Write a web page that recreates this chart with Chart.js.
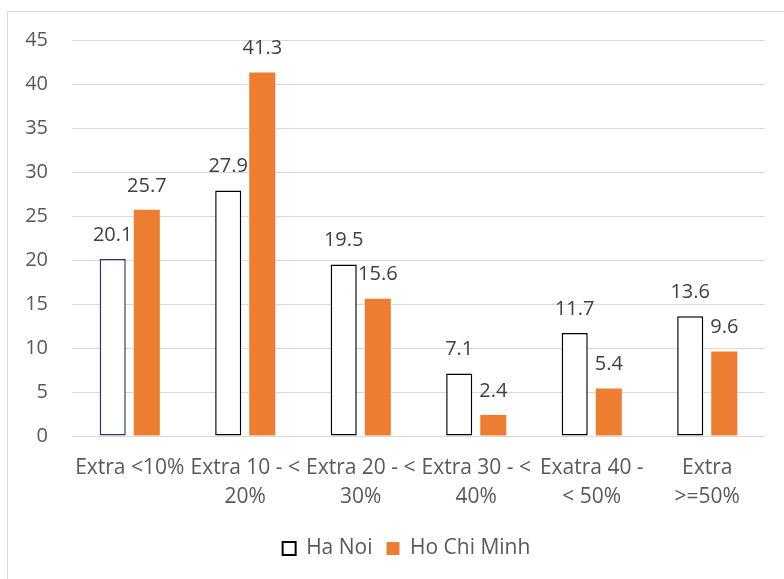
<!DOCTYPE html>
<html>
<head>
<meta charset="utf-8">
<script src="https://cdn.jsdelivr.net/npm/chart.js@4.4.1/dist/chart.umd.min.js"></script>
<style>
    html, body { margin: 0; padding: 0; background: #fff; }
    #frame {
        position: absolute; left: 7px; top: 11px;
        width: 820px; height: 620px;
        border: 1px solid #d9d9d9;
    }
    #wrap { position: absolute; left: 0; top: 0; width: 784px; height: 579px; }
</style>
</head>
<body>
<div id="frame"></div>
<div id="wrap"><canvas id="chart" width="784" height="579"></canvas></div>
<script>
// Values
const categories = [
    ['Extra <10%'],
    ['Extra 10 - <', '20%'],
    ['Extra 20 - <', '30%'],
    ['Extra 30 - <', '40%'],
    ['Exatra 40 -', '< 50%'],
    ['Extra', '>=50%']
];
const haNoi = [20.1, 27.9, 19.5, 7.1, 11.7, 13.6];
const hoChiMinh = [25.7, 41.3, 15.6, 2.4, 5.4, 9.6];
const yTicks = [0, 5, 10, 15, 20, 25, 30, 35, 40, 45];

const FONT = "'Open Sans', 'Liberation Sans', sans-serif";
const ORANGE = '#ED7D31';

// first Ha Noi bar has a navy outline in the original, the rest are black
const haNoiBorders = haNoi.map((v, i) => i === 0 ? '#203864' : '#000000');

// simple value labels above each bar
const valueLabels = {
    id: 'valueLabels',
    afterDatasetsDraw(chart) {
        const ctx = chart.ctx;
        ctx.save();
        ctx.font = '20px ' + FONT;
        ctx.fillStyle = '#404040';
        ctx.textAlign = 'center';
        ctx.textBaseline = 'middle';
        chart.data.datasets.forEach((ds, di) => {
            const meta = chart.getDatasetMeta(di);
            meta.data.forEach((bar, i) => {
                ctx.fillText(ds.data[i].toFixed(1), bar.x, bar.y - 24);
            });
        });
        ctx.restore();
    }
};

// legend in the original sits a bit right of the canvas centre
const shiftLegend = {
    id: 'shiftLegend',
    afterLayout(chart) {
        if (chart.legend) {
            chart.legend.left += 24;
            chart.legend.right += 24;
        }
    }
};

new Chart(document.getElementById('chart'), {
    type: 'bar',
    data: {
        labels: categories,
        datasets: [
            {
                label: 'Ha Noi',
                data: haNoi,
                backgroundColor: '#ffffff',
                borderColor: haNoiBorders,
                borderWidth: 1.5,
                borderSkipped: false
            },
            {
                label: 'Ho Chi Minh',
                data: hoChiMinh,
                backgroundColor: ORANGE,
                borderWidth: 0
            }
        ]
    },
    options: {
        responsive: false,
        animation: false,
        categoryPercentage: 0.59,
        barPercentage: 0.765,
        layout: { padding: { left: 0, right: 19, top: 40, bottom: 10 } },
        plugins: {
            tooltip: { enabled: false },
            legend: {
                position: 'bottom',
                labels: {
                    font: { family: FONT, size: 21 },
                    color: '#595959',
                    boxWidth: 13,
                    boxHeight: 13,
                    padding: 14,
                    generateLabels(chart) {
                        return [
                            { text: 'Ha Noi', fillStyle: '#ffffff', strokeStyle: '#000000', lineWidth: 2, datasetIndex: 0, fontColor: '#595959' },
                            { text: 'Ho Chi Minh', fillStyle: ORANGE, strokeStyle: ORANGE, lineWidth: 0, datasetIndex: 1, fontColor: '#595959' }
                        ];
                    }
                }
            }
        },
        scales: {
            x: {
                grid: { display: false, drawTicks: false },
                border: { display: false },
                ticks: {
                    autoSkip: false,
                    maxRotation: 0,
                    padding: 18,
                    color: '#595959',
                    font: { family: FONT, size: 21, lineHeight: 1.35 }
                },
                afterFit(scale) { scale.height = 88; }
            },
            y: {
                min: 0,
                max: 45,
                afterBuildTicks(scale) { scale.ticks = yTicks.map(v => ({ value: v })); },
                grid: { color: '#d9d9d9', lineWidth: 1, drawTicks: false },
                border: { display: false },
                ticks: {
                    padding: 24,
                    color: '#595959',
                    font: { family: FONT, size: 20 }
                },
                afterFit(scale) { scale.width = 72; }
            }
        }
    },
    plugins: [valueLabels, shiftLegend]
});
</script>
</body>
</html>
